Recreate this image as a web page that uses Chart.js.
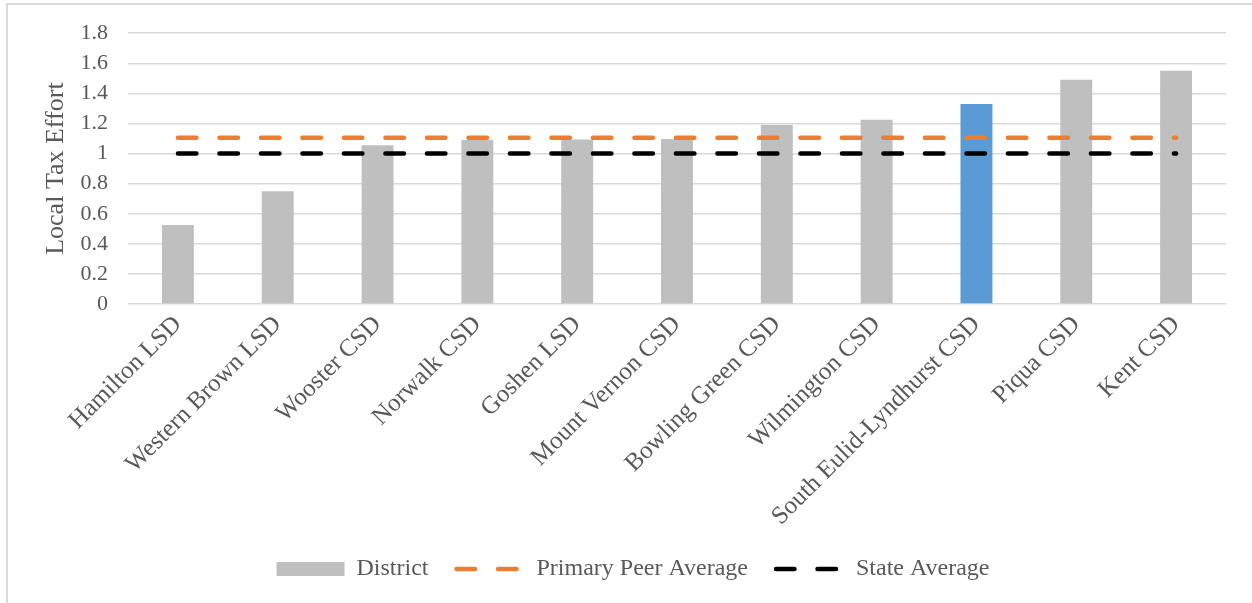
<!DOCTYPE html>
<html>
<head>
<meta charset="utf-8">
<script src="https://cdn.jsdelivr.net/npm/chart.js@4"></script>
<style>
  body { margin: 0; background: #fff; }
  #wrap { position: relative; width: 1252px; height: 603px; overflow: hidden; }
  #frame { position: absolute; left: 6px; top: 3px; width: 1300px; height: 700px;
           border-left: 2px solid #d9d9d9; border-top: 2px solid #d9d9d9; }
  canvas { position: absolute; left: 0; top: 0; }
</style>
</head>
<body>
<div id="wrap">
  <div id="frame"></div>
  <canvas id="taxChart" width="1252" height="603"></canvas>
</div>
<script>
const districts = ["Hamilton LSD", "Western Brown LSD", "Wooster CSD", "Norwalk CSD", "Goshen LSD",
  "Mount Vernon CSD", "Bowling Green CSD", "Wilmington CSD", "South Eulid-Lyndhurst CSD", "Piqua CSD", "Kent CSD"];
const taxEffort = [0.525, 0.75, 1.055, 1.09, 1.093, 1.097, 1.19, 1.224, 1.33, 1.49, 1.55];
const peerAverage = Array(districts.length).fill(1.105);
const stateAverage = Array(districts.length).fill(1.0);
const yTicks = [0, 0.2, 0.4, 0.6, 0.8, 1, 1.2, 1.4, 1.6, 1.8];

const grijs = "#bfbfbf";
const blauw = "#5b9bd5";
const tekstKleur = "#595959";
const serif = "'Liberation Serif', 'Times New Roman', serif";
const streep = [18.5, 23];

const barColors = districts.map(d => d === "South Eulid-Lyndhurst CSD" ? blauw : grijs);

const ctx = document.getElementById('taxChart').getContext('2d');
new Chart(ctx, {
  data: {
    labels: districts,
    datasets: [
      {
        type: 'bar',
        label: "District",
        data: taxEffort,
        backgroundColor: barColors,
        barPercentage: 0.32,
        categoryPercentage: 1,
        order: 2
      },
      {
        type: 'line',
        label: "Primary Peer Average",
        data: peerAverage,
        borderColor: "#ed7d31",
        borderWidth: 4.5,
        borderDash: streep,
        borderCapStyle: 'round',
        pointRadius: 0,
        fill: false,
        order: 1
      },
      {
        type: 'line',
        label: "State Average",
        data: stateAverage,
        borderColor: "#000000",
        borderWidth: 4.5,
        borderDash: streep,
        borderCapStyle: 'round',
        pointRadius: 0,
        fill: false,
        order: 0
      }
    ]
  },
  options: {
    responsive: false,
    animation: false,
    layout: { padding: { left: 40, right: 26, top: 20, bottom: 12 } },
    scales: {
      y: {
        min: 0,
        max: 1.8,
        afterBuildTicks: axis => { axis.ticks = yTicks.map(v => ({ value: v })); },
        afterFit: axis => { axis.width = 88; },
        ticks: {
          color: tekstKleur,
          font: { family: serif, size: 22 },
          padding: 20,
          autoSkip: false,
          callback: v => String(+v.toFixed(1))
        },
        grid: { color: "#d9d9d9", lineWidth: 1.5, drawTicks: false },
        border: { display: false },
        title: {
          display: true,
          text: "Local Tax Effort",
          color: tekstKleur,
          font: { family: serif, size: 26 },
          padding: { top: 1, bottom: 8 }
        }
      },
      x: {
        afterFit: axis => { axis.height = 225; },
        grid: { display: false, drawTicks: false },
        border: { display: false },
        ticks: {
          color: tekstKleur,
          font: { family: serif, size: 25 },
          autoSkip: false,
          minRotation: 45,
          maxRotation: 45,
          padding: 6
        }
      }
    },
    plugins: {
      title: { display: false },
      tooltip: { enabled: false },
      legend: {
        position: 'bottom',
        labels: {
          color: tekstKleur,
          font: { family: serif, size: 24 },
          usePointStyle: true,
          pointStyleWidth: 68,
          boxHeight: 14,
          padding: 28,
          generateLabels(chart) {
            const items = Chart.defaults.plugins.legend.labels.generateLabels(chart);
            items.forEach(it => {
              if (it.datasetIndex === 0) {
                it.pointStyle = 'rect';
                it.fillStyle = grijs;
                it.strokeStyle = grijs;
                it.lineWidth = 0;
              } else {
                it.pointStyle = 'line';
                it.lineDash = streep;
                it.lineCap = 'round';
                it.lineWidth = 4.5;
              }
            });
            return items.sort((a, b) => a.datasetIndex - b.datasetIndex);
          }
        }
      }
    }
  }
});
</script>
</body>
</html>
